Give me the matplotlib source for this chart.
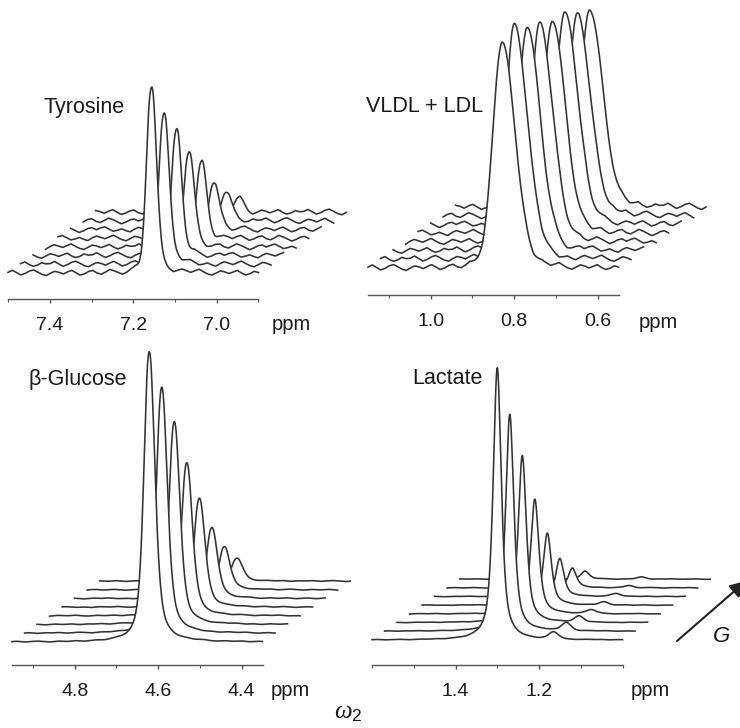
"""Stacked diffusion-edited 1H spectra: signal decay with gradient strength G."""
import numpy as np
import matplotlib
matplotlib.use("Agg")
import matplotlib.pyplot as plt

W_PX, H_PX, DPI = 740, 728, 100
PX_PER_PPM = 417.5        # 0.2 ppm spans 83.5 px on every ruler
N_TRACES = 8
DX_PPM = 0.03             # each later gradient step is shifted right ...
DY_PX = 8.7               # ... and up

# peak height above the trace baseline, front (lowest G) trace first
tyr_heights = [185, 154, 125, 96, 75, 46, 29, 13]
vldl_heights = [225, 234, 225, 219, 213, 214, 202, 197]
glc_heights = [290, 246, 203, 153, 109, 71, 43, 23]
lac_heights = [272, 217, 167, 115, 72, 38, 20, 8]
lac_minor_heights = [7, 8, 6, 4, 3, 3, 2, 2]

# line components: (centre ppm, rel. amplitude, hwhm high-ppm side, hwhm low-ppm side, lorentz fraction)
tyr_peaks = [(7.163, 0.85, 0.010, 0.010, 0.35), (7.151, 1.0, 0.010, 0.012, 0.35)]
vldl_peaks = [(0.829, 1.0, 0.026, 0.037, 0.15)]
glc_peaks = [(4.627, 0.95, 0.012, 0.012, 0.6), (4.616, 1.0, 0.012, 0.014, 0.6)]
lac_peaks = [(1.300, 1.0, 0.0115, 0.0115, 0.7)]
lac_minor_peaks = [(1.165, 1.0, 0.013, 0.013, 0.3)]

# baseline roughness, shared by all traces (shifted per trace)
RIPPLE = [0.2, 0.9, 0.1, -0.7, -0.2, 0.6, 1.0, 0.3, -0.5, -0.9, -0.1, 0.5,
          0.2, -0.4, 0.3, 0.8, 0.0, -0.8, -0.4, 0.4, 0.7, -0.2, -0.6, 0.1,
          0.9, 0.4, -0.3, -1.0, -0.5, 0.3, 0.6, -0.1, 0.5, 0.9, 0.2, -0.6,
          -0.3, 0.2, -0.4, -0.8, 0.1, 0.7, 0.3, -0.2, 0.4, 1.0, 0.2, -0.5,
          -0.9, -0.2, 0.6, 0.3, -0.3, 0.2, 0.8, -0.1, -0.7, -0.3, 0.5, 0.1]

LINE = "#333333"
plt.rcParams["font.family"] = ["Liberation Sans", "DejaVu Sans"]
plt.rcParams["mathtext.fontset"] = "custom"
plt.rcParams["mathtext.it"] = "Liberation Serif:italic"
plt.rcParams["mathtext.rm"] = "Liberation Sans"


def pseudo_voigt(x, c, w_hi, w_lo, eta):
    w = np.where(x >= c, w_hi, w_lo)
    u = (x - c) / w
    return eta / (1 + u ** 2) + (1 - eta) * np.exp(-np.log(2) * u ** 2)


def lineshape(x, comps):
    y = np.zeros_like(x)
    for c, a, wh, wl, eta in comps:
        y += a * pseudo_voigt(x, c, wh, wl, eta)
    return y


def normalised(x, comps):
    y = lineshape(x, comps)
    return y / y.max()


def ripple(n, k):
    r = np.roll(np.array(RIPPLE), 7 * k)
    return np.interp(np.linspace(0, 1, n), np.linspace(0, 1, len(r)), r)


def panel(fig, ax_left, ruler_y, width, height, ruler, ruler_left, majors, minors,
          heights, peaks, base, noise, extra=None):
    ax = fig.add_axes([ax_left / W_PX, (H_PX - ruler_y) / H_PX, width / W_PX, height / H_PX])
    ax.patch.set_alpha(0)
    x0 = ruler[0] + (ruler_left - ax_left) / PX_PER_PPM
    ax.set_xlim(x0, x0 - width / PX_PER_PPM)
    ax.set_ylim(0, height)

    xg = np.linspace(ruler[0], ruler[1], 1500)
    shape = normalised(xg, peaks)
    for k in range(N_TRACES - 1, -1, -1):
        y0 = base + k * DY_PX
        y = y0 + heights[k] * shape + noise * ripple(len(xg), k)
        if extra is not None:
            ex_heights, ex_peaks = extra
            y = y + ex_heights[k] * lineshape(xg, ex_peaks)
        xs = xg - k * DX_PPM
        z = 10 + 2 * (N_TRACES - 1 - k)
        ax.fill_between(xs, y, y0 - 6, color="white", lw=0, zorder=z)
        ax.plot(xs, y, color=LINE, lw=1.15, zorder=z + 1)

    for s in ("top", "left", "right"):
        ax.spines[s].set_visible(False)
    ax.spines["bottom"].set_bounds(ruler[0], ruler[1])
    ax.spines["bottom"].set_color("#555555")
    ax.spines["bottom"].set_linewidth(1.0)
    ax.set_yticks([])
    ax.set_xticks(majors)
    ax.set_xticklabels([f"{v:.1f}" for v in majors])
    ax.set_xticks(minors, minor=True)
    ax.tick_params(axis="x", which="both", direction="out", color="#555555",
                   labelsize=14, labelcolor="#1a1a1a")
    ax.tick_params(axis="x", which="major", length=3, width=1.0, pad=10)
    ax.tick_params(axis="x", which="minor", length=2.5, width=0.8)
    return ax


fig = plt.figure(figsize=(W_PX / DPI, H_PX / DPI), dpi=DPI)

panel(fig, 0, 299, 370, 299, (7.50, 6.90), 8, [7.4, 7.2, 7.0], [7.5, 7.3, 7.1, 6.9],
      tyr_heights, tyr_peaks, base=26, noise=3.0)
panel(fig, 360, 295, 370, 295, (1.15, 0.55), 368, [1.0, 0.8, 0.6], [1.1, 0.9, 0.7],
      vldl_heights, vldl_peaks, base=27, noise=3.2)
panel(fig, 0, 665, 370, 330, (4.95, 4.35), 12, [4.8, 4.6, 4.4], [4.9, 4.7, 4.5],
      glc_heights, glc_peaks, base=23, noise=0.5)
lac = panel(fig, 370, 665, 370, 330, (1.60, 1.00), 372, [1.4, 1.2], [1.6, 1.5, 1.3, 1.1, 1.0],
            lac_heights, lac_peaks, base=25, noise=0.3,
            extra=(lac_minor_heights, lac_minor_peaks))


def fig_text(x, y, s, **kw):
    fig.text(x / W_PX, 1 - y / H_PX, s, color="#1a1a1a", va="center", **kw)


fig_text(43, 108, "Tyrosine", fontsize=15.5)
fig_text(366, 107, "VLDL + LDL", fontsize=15.5)
fig_text(29, 380, "β-Glucose", fontsize=15.5)
fig_text(412, 378, "Lactate", fontsize=15.5)
for x, y in [(291, 325), (658, 322), (290, 690), (650, 690)]:
    fig_text(x, y, "ppm", fontsize=14.5, ha="center")
fig_text(348, 712, r"$\omega_2$", fontsize=18, ha="center")
fig_text(722, 636, "G", fontsize=16, ha="center", style="italic")

lac.annotate("", xy=(746, H_PX - 581), xytext=(677, H_PX - 641),
             xycoords="figure pixels", textcoords="figure pixels",
             arrowprops=dict(arrowstyle="-|>", color="#222222", lw=1.5,
                             mutation_scale=24, shrinkA=0, shrinkB=0),
             annotation_clip=False)

fig.savefig("out.png", dpi=DPI)
